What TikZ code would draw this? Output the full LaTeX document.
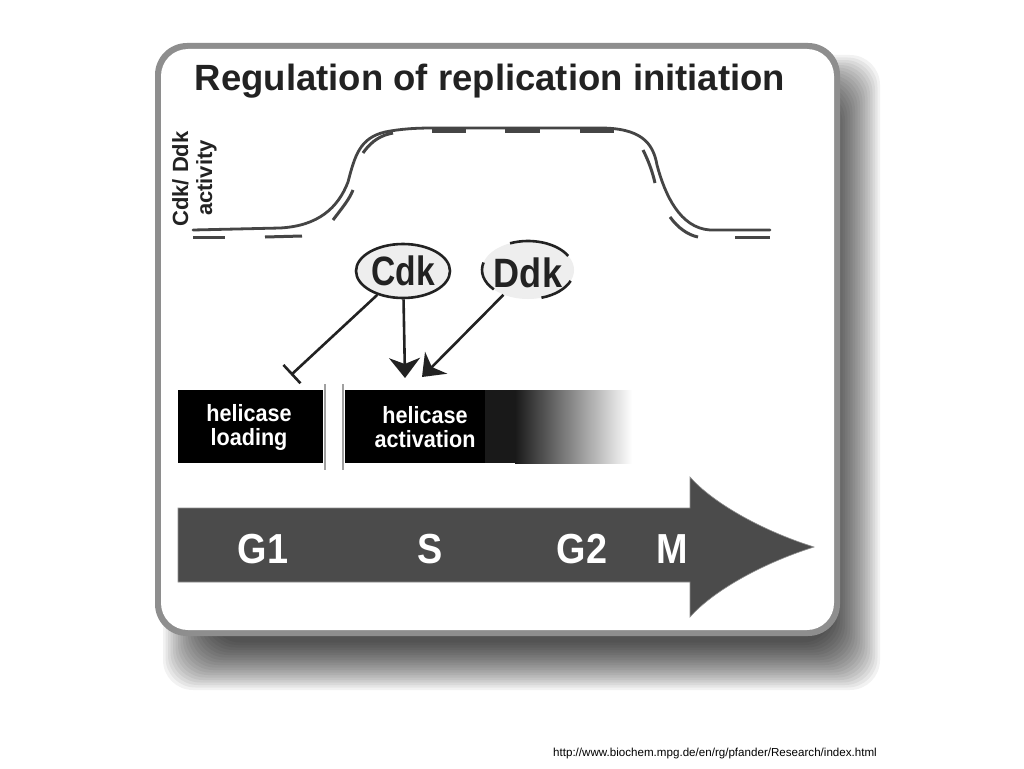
\documentclass[tikz,border=0pt]{standalone}
\usepackage{fontspec}
\usepackage{graphicx}
\setmainfont{Liberation Sans}
\usetikzlibrary{arrows.meta,shapes.geometric}
\definecolor{framegray}{HTML}{8E8E8E}
\definecolor{curvegray}{HTML}{454545}
\definecolor{ink}{HTML}{222222}
\definecolor{ovalfill}{HTML}{EEEEEE}
\definecolor{arrowfill}{HTML}{4B4B4B}
\definecolor{sepgray}{HTML}{A0A0A0}
\tikzset{
  curve/.style={draw=curvegray, line width=2.8pt, line cap=round},
  dashseg/.style={draw=curvegray, line width=3pt},
  oval/.style={ellipse, inner sep=0pt, minimum width=94pt, minimum height=54pt, fill=ovalfill},
  ovaltext/.style={font=\fontsize{41}{44}\selectfont\bfseries, text=ink, anchor=base},
  conn/.style={draw=ink, line width=2.6pt},
  boxtext/.style={font=\fontsize{23.5}{24}\selectfont\bfseries, text=white, align=center},
  phase/.style={font=\fontsize{42}{44}\selectfont\bfseries, text=white, anchor=base},
  axislbl/.style={font=\fontsize{22}{24}\selectfont\bfseries, text=ink, rotate=90, anchor=base}
}
\begin{document}
\begin{tikzpicture}[x=1pt,y=-1pt]
\useasboundingbox (0,0) rectangle (1024,768);
\fill[white] (0,0) rectangle (1024,768);
% shadow
\foreach \i in {0,...,19} {
  \fill[black, opacity=0.05, rounded corners=30pt]
    ({163+2.5*\i},{55+2.5*\i}) rectangle ({880-2.5*\i},{690-2.5*\i});
}
% frame
\fill[framegray, rounded corners=32pt] (155,43) rectangle (840,636);
\fill[white, rounded corners=27pt] (161,49) rectangle (834,630);
% title
\node[font=\fontsize{36.5}{40}\selectfont\bfseries, text=ink, anchor=base] (title) at (490,90) {Regulation of replication initiation};
% axis labels
\node[axislbl] (axis1) at (188,179) {Cdk/ Ddk};
\node[axislbl] (axis2) at (212,178) {activity};
% solid activity curve
\draw[curve] (193,230) -- (280,228) .. controls (318,226) and (338,208) .. (348,182)
  .. controls (355,155) and (360,138) .. (385,132)
  .. controls (400,129) and (415,128) .. (433,128) -- (600,128)
  .. controls (640,128) and (653,142) .. (657,165)
  .. controls (665,195) and (680,228) .. (710,230) -- (770,230);
% dashed activity curve
\draw[dashseg] (193,237) -- (225,237);
\draw[dashseg] (265,237) -- (302,236);
\draw[dashseg] (333,220) .. controls (342,208) and (349,200) .. (353,190);
\draw[dashseg] (363,153) .. controls (372,140) and (382,135) .. (393,133);
\draw[dashseg, line width=4pt] (432,131) -- (466,131);
\draw[dashseg, line width=4pt] (505,131) -- (540,131);
\draw[dashseg, line width=4pt] (580,131) -- (614,131);
\draw[dashseg] (643,150) .. controls (648,160) and (652,170) .. (655,183);
\draw[dashseg] (670,217) .. controls (678,228) and (688,235) .. (698,237);
\draw[dashseg] (735,237) -- (770,237);
% Cdk and Ddk
\node[oval, draw=ink, line width=2.6pt] (cdk) at (403,271) {};
\node[ovaltext] (cdktext) at (403,285) {\scalebox{0.82}[1]{Cdk}};
\node[oval, minimum width=92pt, minimum height=58pt] (ddk) at (528,270) {};
\node[ovaltext] (ddktext) at (528,287) {\scalebox{0.88}[1]{Ddk}};
\draw[conn] (ddk.center) ++(113:46pt and 29pt) arc[start angle=113, end angle=29, x radius=46pt, y radius=29pt];
\draw[conn] (ddk.center) ++(165:46pt and 29pt) arc[start angle=165, end angle=222, x radius=46pt, y radius=29pt];
\draw[conn] (ddk.center) ++(287:46pt and 29pt) arc[start angle=287, end angle=338, x radius=46pt, y radius=29pt];
% connectors
\coordinate (inhEnd) at (291,375);
\coordinate (actA) at (405,378);
\coordinate (actB) at (422,377);
\draw[conn, -{Bar[width=25pt, line width=2.6pt]}] (cdk) -- (inhEnd);
\draw[conn, -{Stealth[length=20pt, width=31pt, inset=6pt]}] (cdk) -- (actA);
\draw[conn, -{Stealth[length=20pt, width=31pt, inset=6pt]}] (ddk) -- (actB);
% helicase boxes
\fill[black] (178,390) rectangle (323,463);
\node[boxtext] (load) at (249,427) {\scalebox{0.92}[1]{helicase}\\\scalebox{0.92}[1]{loading}};
\fill[black] (345,390) rectangle (485,463);
\fill[black!90] (485,390) rectangle (515,463);
\shade[left color=black!90, right color=white] (515,390) rectangle (632,463);
\node[boxtext] (act) at (425,427) {\scalebox{0.92}[1]{helicase}\\\scalebox{0.92}[1]{activation}};
\draw[sepgray, line width=2.5pt] (325,384) -- (325,470);
\draw[sepgray, line width=2.5pt] (343,384) -- (343,470);
% cell cycle arrow
\fill[arrowfill, draw=framegray, line width=0.6pt] (178,508) -- (690,508) -- (690,477)
  .. controls (712,502) and (760,530) .. (814,547)
  .. controls (760,564) and (712,592) .. (690,617) -- (690,582) -- (178,582) -- cycle;
\node[phase] (g1) at (263,563) {\scalebox{0.9}[1]{G1}};
\node[phase] (s) at (430,563) {\scalebox{0.9}[1]{S}};
\node[phase] (g2) at (582,563) {\scalebox{0.9}[1]{G2}};
\node[phase] (m) at (672,563) {\scalebox{0.9}[1]{M}};
% source
\node[font=\fontsize{11.6}{13}\selectfont, text=black, anchor=base] (url) at (715,756) {http://www.biochem.mpg.de/en/rg/pfander/Research/index.html};
\end{tikzpicture}
\end{document}
